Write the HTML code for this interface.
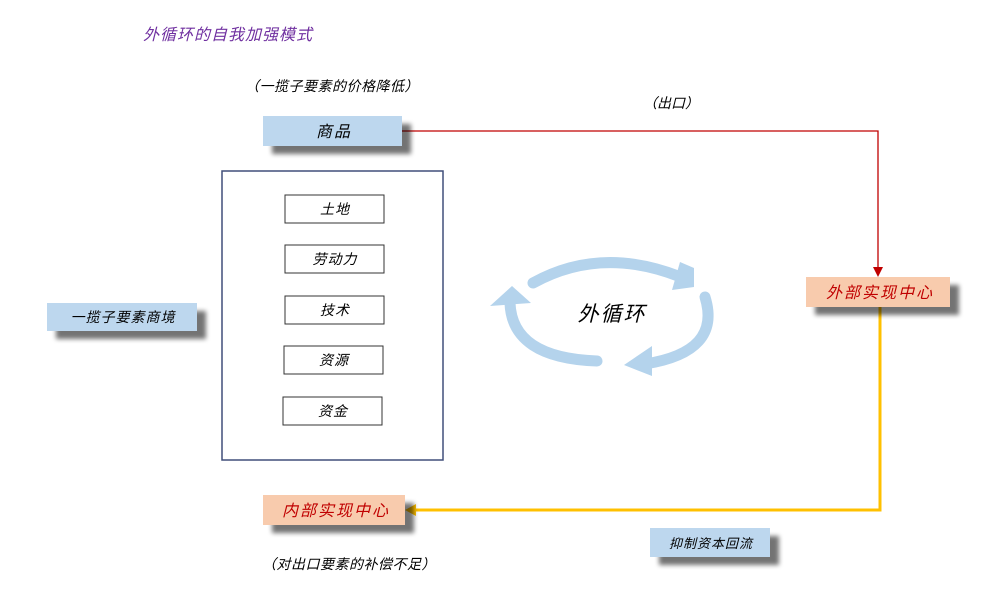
<!DOCTYPE html>
<html><head><meta charset="utf-8"><style>
html,body{margin:0;padding:0;background:#fff;}
svg{display:block;}
text{font-family:"Liberation Serif","Noto Sans CJK SC",serif;font-style:italic;}
</style></head><body>
<svg width="1000" height="602" viewBox="0 0 1000 602" xmlns="http://www.w3.org/2000/svg">
<defs>
<filter id="sh" x="-20%" y="-30%" width="150%" height="190%">
<feGaussianBlur in="SourceAlpha" stdDeviation="2.5"/>
<feOffset dx="9" dy="8" result="b"/>
<feComponentTransfer><feFuncA type="linear" slope="0.55"/></feComponentTransfer>
<feMerge><feMergeNode/><feMergeNode in="SourceGraphic"/></feMerge>
</filter>
</defs>
<text x="143" y="40" font-size="16" fill="#7030a0" letter-spacing="1">外循环的自我加强模式</text>
<text x="245" y="91" font-size="14" fill="#000" letter-spacing="0.5">（一揽子要素的价格降低）</text>
<text x="643" y="108" font-size="14" fill="#000">（出口）</text>

<polyline points="402,131 878,131 878,268" fill="none" stroke="#c00000" stroke-width="1.3"/>
<polygon points="873,267 883,267 878,277" fill="#c00000"/>
<polyline points="880,307 880,510 415,510" fill="none" stroke="#ffc000" stroke-width="3"/>
<polygon points="416,504 416,516 405,510" fill="#ffc000"/>

<rect x="263" y="116" width="139" height="30" fill="#bdd7ee" filter="url(#sh)"/>
<text x="334" y="137" font-size="16" text-anchor="middle" letter-spacing="2">商品</text>

<rect x="806" y="277" width="144" height="30" fill="#f8cbad" filter="url(#sh)"/>
<text x="880" y="298" font-size="16" text-anchor="middle" fill="#c00000" letter-spacing="2">外部实现中心</text>

<rect x="263" y="495" width="142" height="30" fill="#f8cbad" filter="url(#sh)"/>
<text x="336" y="516" font-size="16" text-anchor="middle" fill="#c00000" letter-spacing="2">内部实现中心</text>

<rect x="650" y="528" width="120" height="29" fill="#bdd7ee" filter="url(#sh)"/>
<text x="711" y="548" font-size="13" text-anchor="middle" letter-spacing="1">抑制资本回流</text>

<rect x="47" y="303" width="150" height="28" fill="#bdd7ee" filter="url(#sh)"/>
<text x="123" y="322" font-size="14" text-anchor="middle" letter-spacing="1">一揽子要素商境</text>

<rect x="222" y="171" width="221" height="289" fill="none" stroke="#404f7a" stroke-width="1.5"/>
<g fill="#fff" stroke="#333" stroke-width="1">
<rect x="285" y="195" width="99" height="28"/>
<rect x="285" y="245" width="99" height="28"/>
<rect x="285" y="296" width="99" height="28"/>
<rect x="284" y="346" width="99" height="28"/>
<rect x="283" y="397" width="99" height="28"/>
</g>
<g font-size="14" text-anchor="middle" letter-spacing="1">
<text x="335" y="214">土地</text>
<text x="335" y="264">劳动力</text>
<text x="335" y="315">技术</text>
<text x="334" y="365">资源</text>
<text x="333" y="416">资金</text>
</g>

<g fill="none" stroke="#b4d3ec" stroke-width="11" stroke-linecap="round">
<path d="M533,283 Q600,246 678,276"/>
<path d="M705,297 Q722,352 645,364"/>
<path d="M597,361 Q512,358 510,303"/>
</g>
<g fill="#b4d3ec">
<polygon points="680,262 694,268 694,287 672,290"/>
<polygon points="652,346 624,365 652,376"/>
<polygon points="490,306 512,286 531,303"/>
</g>
<text x="612" y="321" font-size="21" text-anchor="middle" letter-spacing="2">外循环</text>

<text x="262" y="569" font-size="14" letter-spacing="0.5">（对出口要素的补偿不足）</text>
</svg>
</body></html>
